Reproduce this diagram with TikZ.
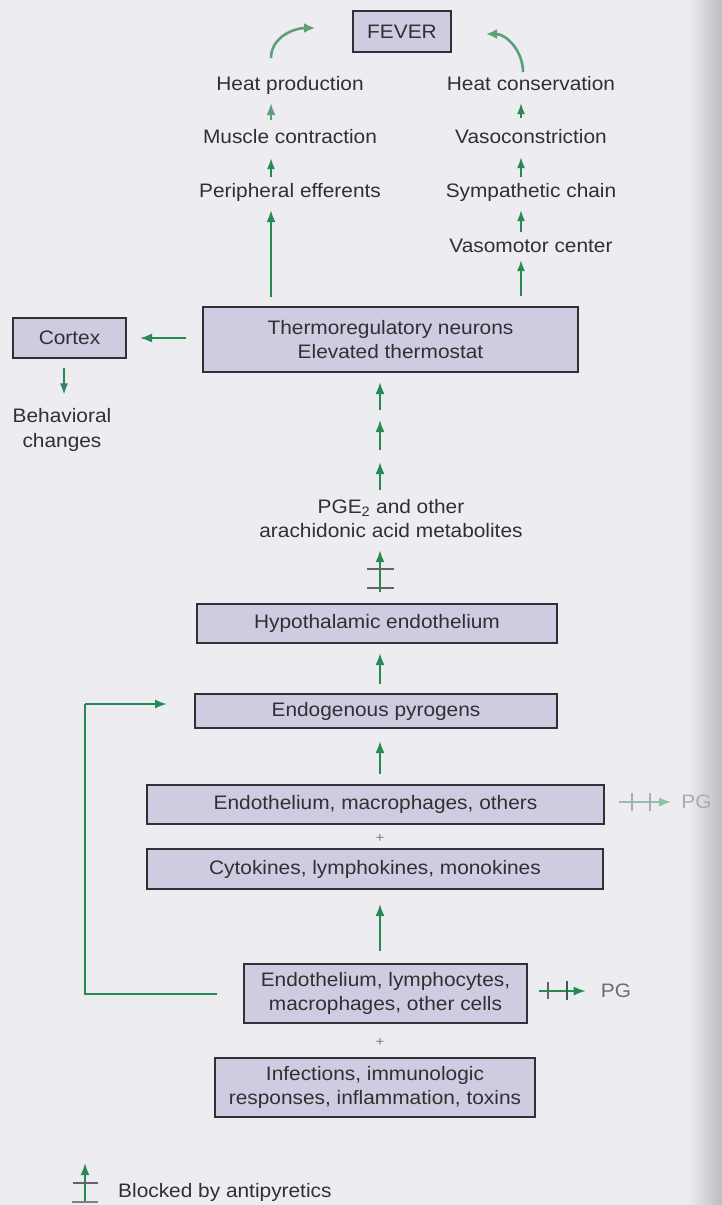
\documentclass[tikz,border=0pt]{standalone}
\usepackage{fontspec}
\setmainfont{Liberation Sans}[FakeStretch=1.07]
\usetikzlibrary{arrows.meta,calc}
\definecolor{bg}{RGB}{237,237,241}
\definecolor{boxfill}{RGB}{206,204,224}
\definecolor{boxline}{RGB}{48,48,54}
\definecolor{ink}{RGB}{48,48,52}
\definecolor{grn}{RGB}{38,138,82}
\definecolor{lgrn}{RGB}{92,160,122}
\definecolor{edge}{RGB}{188,188,193}

\begin{document}
\begin{tikzpicture}[x=1pt,y=-1pt,
  every node/.style={font=\fontsize{19.5}{24.5}\selectfont, text=ink, inner sep=0pt},
  box/.style={draw=boxline, line width=2pt, fill=boxfill, align=center},
  lbl/.style={align=center, text height=14pt, text depth=4pt},
  arr/.style={draw=grn, line width=1.9pt, -{Latex[length=12pt,width=9pt]}},
  thinarr/.style={draw=grn, line width=1.5pt, -{Latex[length=11pt,width=8pt]}},
  curv/.style={draw=lgrn, line width=2.6pt, -{Latex[length=11pt,width=10pt]}},
  bar/.style={draw=boxline!75, line width=2pt},
  plus/.style={text=gray, font=\fontsize{14}{14}\selectfont},
]
% page and its darker right edge
\useasboundingbox (0,0) rectangle (722,1205);
\fill[bg] (0,0) rectangle (722,1205);
\shade[left color=bg, right color=edge] (688,0) rectangle (722,1205);

% columns used by vertical arrows
\coordinate (colL) at (271,0);
\coordinate (colR) at (521,0);
\coordinate (colM) at (380,0);
\coordinate (colC) at (64,0);
\coordinate (fbx) at (85,0);

% ---- top: effector pathways ----
\node[box, minimum width=98pt, minimum height=41pt] (fever) at (402,31.5) {FEVER};
\node[lbl] (hp) at (290,85) {Heat production};
\node[lbl] (mc) at (290,138) {Muscle contraction};
\node[lbl] (pe) at (290,192) {Peripheral efferents};
\node[lbl] (hc) at (531,85) {Heat conservation};
\node[lbl] (vc) at (531,138) {Vasoconstriction};
\node[lbl] (sc) at (531,192) {Sympathetic chain};
\node[lbl] (vm) at (531,247) {Vasomotor center};

\node[box, minimum width=375pt, minimum height=65pt] (thermo) at (390.5,339.5)
  {Thermoregulatory neurons\\Elevated thermostat};
\node[box, minimum width=113pt, minimum height=40pt] (cortex) at (69.5,338) {Cortex};
\node[align=center] (beh) at (62,430) {Behavioral\\changes};

\node[align=center] (pge) at (391,518.5) {PGE\textsubscript{2} and other\\arachidonic acid metabolites};

% ---- lower chain ----
\node[box, minimum width=360pt, minimum height=39pt] (hypo) at (377,623.5) {Hypothalamic endothelium};
\node[box, minimum width=362pt, minimum height=34pt] (endo) at (376,711) {Endogenous pyrogens};
\node[box, minimum width=457pt, minimum height=39pt] (emo) at (375.5,804.5) {Endothelium, macrophages, others};
\node[box, minimum width=456pt, minimum height=40pt] (cyto) at (375,869) {Cytokines, lymphokines, monokines};
\node[box, minimum width=283pt, minimum height=59pt] (lym) at (385.5,993.5)
  {Endothelium, lymphocytes,\\macrophages, other cells};
\node[box, minimum width=320pt, minimum height=59pt] (inf) at (375,1087.5)
  {Infections, immunologic\\responses, inflammation, toxins};

\node[plus] (plusA) at (380,838) {+};
\node[plus] (plusB) at (380,1042) {+};

\node[text=ink!40] (pgA) at (696.5,802) {PG};
\node[text=ink!70] (pgB) at (616,991) {PG};

% ---- arrows, top ----
\coordinate (clA) at (271,58);
\coordinate (clB) at (315,28);
\coordinate (crA) at (523,72);
\coordinate (crB) at (486,34);
\draw[curv] (clA) to[out=90,in=180] (clB);
\draw[curv] (crA) to[out=90,in=0] (crB);

\draw[arr, draw=lgrn, shorten <=9pt, shorten >=9pt] (colL |- mc.north) -- (colL |- hp.south);
\draw[thinarr, shorten <=6pt, shorten >=11pt] (colL |- pe.north) -- (colL |- mc.south);
\draw[arr, shorten <=9pt, shorten >=9pt] (colL |- thermo.north) -- (colL |- pe.south);

\draw[thinarr, shorten <=11pt, shorten >=9pt] (colR |- vc.north) -- (colR |- hc.south);
\draw[thinarr, shorten <=6pt, shorten >=10pt] (colR |- sc.north) -- (colR |- vc.south);
\draw[thinarr, shorten <=6pt, shorten >=9pt] (colR |- vm.north) -- (colR |- sc.south);
\draw[thinarr, shorten <=10pt, shorten >=4pt] (colR |- thermo.north) -- (colR |- vm.south);

% cortex branch
\draw[arr, shorten <=16pt, shorten >=13pt] (thermo.west |- cortex.east) -- (cortex.east);
\draw[thinarr, shorten <=9pt, shorten >=14pt] (colC |- cortex.south) -- (colC |- beh.north);

% three steps from the metabolites up to the thermostat
\coordinate (s1) at (380,490); \coordinate (t1) at (380,462);
\coordinate (s2) at (380,450); \coordinate (t2) at (380,420);
\coordinate (s3) at (380,410); \coordinate (t3) at (380,382);
\draw[arr] (s1) -- (t1);
\draw[arr] (s2) -- (t2);
\draw[arr] (s3) -- (t3);

% step blocked by antipyretics
\draw[arr, shorten <=11pt, shorten >=12pt] (colM |- hypo.north) -- (colM |- pge.south);
\draw[bar] (367,569) -- (394,569);
\draw[bar] (367,588) -- (394,588);

% ---- arrows, lower chain ----
\draw[arr, shorten <=9pt, shorten >=9pt] (colM |- endo.north) -- (colM |- hypo.south);
\draw[arr, shorten <=10pt, shorten >=12pt] (colM |- emo.north) -- (colM |- endo.south);
\draw[arr, shorten <=12pt, shorten >=14pt] (colM |- lym.north) -- (colM |- cyto.south);

% feedback from the cells to the endogenous pyrogens
\coordinate (fbt) at ($(endo.west)+(0,-7)$);
\draw[draw=grn, line width=2pt, shorten <=26pt] (lym.west) -- (fbx |- lym.west) -- (fbx |- fbt);
\draw[arr, line width=2pt, shorten >=27pt] (fbx |- fbt) -- (fbt);

% blocked prostaglandin outputs
\draw[arr, draw=grn!45!bg, line width=1.8pt, shorten <=14pt, shorten >=10pt] (emo.east |- pgA) -- (pgA.west);
\draw[bar, draw=boxline!35!bg, line width=1.8pt] (632,793) -- (632,811);
\draw[bar, draw=boxline!35!bg, line width=1.8pt] (650,793) -- (650,811);

\draw[arr, line width=1.8pt, shorten <=11pt, shorten >=15pt] (lym.east |- pgB) -- (pgB.west);
\draw[bar, line width=1.4pt] (548,982) -- (548,999);
\draw[bar, draw=grn!60!boxline, line width=2.2pt] (567,981) -- (567,1000);

% ---- legend ----
\node[anchor=west] (leg) at (118,1192) {Blocked by antipyretics};
\draw[arr] (85,1202) -- (85,1163);
\draw[bar] (73,1183) -- (98,1183);
\draw[bar, draw=gray] (72,1202) -- (98,1202);
\end{tikzpicture}
\end{document}
